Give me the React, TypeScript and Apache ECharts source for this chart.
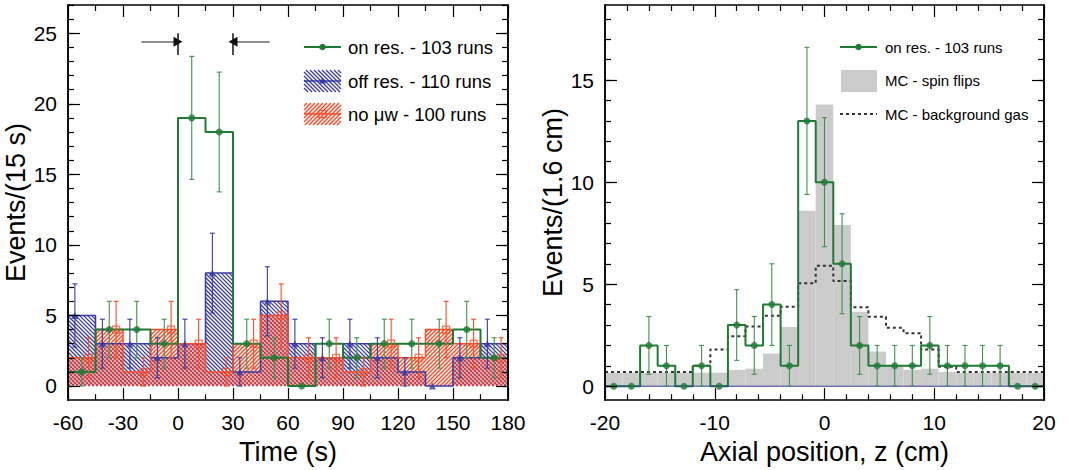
import { useEffect, useRef } from "react";
import * as echarts from "echarts";

// ---------- Left panel: time distribution (15 s bins) ----------
const timeEdges = [-60, -45, -30, -15, 0, 15, 30, 45, 60, 75, 90, 105, 120, 135, 150, 165, 180];
const onRes = [1, 4, 4, 3, 19, 18, 3, 2, 0, 3, 2, 3, 3, 3, 4, 2];
const offRes = [5, 3, 3, 2, 3, 8, 1, 6, 3, 2, 3, 2, 1, 0, 2, 3];
const noMw = [2, 4, 1, 4, 3, 1, 3, 5, 2, 2, 1, 3, 2, 4, 3, 2];
const timeTicks = [-60, -30, 0, 30, 60, 90, 120, 150, 180];
const leftYMajor = [0, 5, 10, 15, 20, 25];
const leftYMinor = [0, 1, 2, 3, 4, 5, 6, 7, 8, 9, 10, 11, 12, 13, 14, 15, 16, 17, 18, 19, 20, 21, 22, 23, 24, 25, 26, 27];
// resonance window markers (s) and arrow geometry in data units
const windowStart = 0;
const windowEnd = 30;
const arrowLen = 20;
const arrowHead = 2.5;
const arrowY = 24.4;
const barLo = 23.45;
const barHi = 25.0;

// ---------- Right panel: axial position (1.6 cm bins) ----------
const zEdges = [-20, -18.4, -16.8, -15.2, -13.6, -12, -10.4, -8.8, -7.2, -5.6, -4, -2.4, -0.8, 0.8, 2.4, 4, 5.6, 7.2, 8.8, 10.4, 12, 13.6, 15.2, 16.8, 18.4, 20];
const onResZ = [0, 0, 2, 1, 0, 1, 0, 3, 2, 4, 1, 13, 10, 6, 2, 1, 1, 1, 2, 1, 1, 1, 1, 0, 0];
const mcSpin = [0.66, 0.66, 0.66, 0.66, 0.66, 0.66, 0.66, 0.8, 0.86, 1.6, 2.9, 8.6, 13.8, 7.9, 3.65, 1.7, 1.0, 0.8, 0.86, 0.7, 0.65, 0.65, 0.65, 0.65, 0.65];
const bgGas = [0.7, 0.7, 0.7, 0.7, 0.7, 1.0, 1.8, 2.45, 2.93, 3.45, 3.9, 5.05, 5.9, 5.15, 3.87, 3.4, 2.86, 2.6, 1.8, 0.95, 0.7, 0.7, 0.7, 0.7, 0.7];
const baselineZ = [0, 0, 0, 0, 0, 0, 0, 0, 0, 0, 0, 0, 0, 0, 0, 0, 0, 0, 0, 0, 0, 0, 0, 0, 0];
const rightYMajor = [0, 5, 10, 15];
const rightYMinor = [0, 1, 2, 3, 4, 5, 6, 7, 8, 9, 10, 11, 12, 13, 14, 15, 16, 17, 18];

const FONT = '"Liberation Sans", Arial, Helvetica, sans-serif';
const GREEN = "#1e7b34";
const GREEN_ERR = "#3f9150";
const BLUE = "#3a3aa6";
const RED = "#ff4a26";
const GRAY = "#cbcbcb";
const DOT = "#333333";

function hatchSegments(ax: number, ay: number, bx: number, by: number, s: number, dir: number) {
  const x0 = Math.min(ax, bx), x1 = Math.max(ax, bx);
  const y0 = Math.min(ay, by), y1 = Math.max(ay, by);
  const segs: number[][] = [];
  if (x1 - x0 < 0.5 || y1 - y0 < 0.5) return segs;
  if (dir === 1) {
    const cmin = x0 - y1, cmax = x1 - y0;
    for (let c = Math.ceil(cmin / s) * s; c <= cmax; c += s) {
      const xa = Math.max(x0, y0 + c), xb = Math.min(x1, y1 + c);
      if (xb > xa) segs.push([xa, xa - c, xb, xb - c]);
    }
  } else {
    const cmin = x0 + y0, cmax = x1 + y1;
    for (let c = Math.ceil(cmin / s) * s + 2; c <= cmax; c += s) {
      const xa = Math.max(x0, c - y1), xb = Math.min(x1, c - y0);
      if (xb > xa) segs.push([xa, c - xa, xb, c - xb]);
    }
  }
  return segs;
}

const binData = (edges: number[], vals: number[]) => vals.map((v, i) => [edges[i], edges[i + 1], v]);
const stepPoints = (edges: number[], vals: number[]) => {
  const pts: number[][] = [];
  vals.forEach((v, i) => {
    pts.push([edges[i], v]);
    pts.push([edges[i + 1], v]);
  });
  return pts;
};
const centers = (edges: number[], off: number) => edges.slice(0, -1).map((e, i) => (e + edges[i + 1]) / 2 + off);
const points = (edges: number[], vals: number[], off: number) => {
  const c = centers(edges, off);
  return vals.map((v, i) => [c[i], v]);
};
const errData = (edges: number[], vals: number[], off: number) => {
  const c = centers(edges, off);
  const out: number[][] = [];
  vals.forEach((v, i) => {
    if (v > 0) out.push([c[i], v - Math.sqrt(v), v + Math.sqrt(v)]);
  });
  return out;
};

const hatchSeries = (data: number[][], color: string, dir: number, lw: number, xi: number, yi: number) => ({
  type: "custom",
  xAxisIndex: xi,
  yAxisIndex: yi,
  z: 1,
  silent: true,
  data,
  encode: { x: [0, 1], y: 2 },
  renderItem: (_p: any, api: any) => {
    const a = api.coord([api.value(0), api.value(2)]);
    const b = api.coord([api.value(1), 0]);
    const segs = hatchSegments(a[0], a[1], b[0], b[1], 4, dir);
    return {
      type: "group",
      children: segs.map((g) => ({
        type: "line",
        shape: { x1: g[0], y1: g[1], x2: g[2], y2: g[3] },
        style: { stroke: color, lineWidth: lw, opacity: 1 },
      })),
    };
  },
});

const rectSeries = (data: number[][], color: string, xi: number, yi: number) => ({
  type: "custom",
  xAxisIndex: xi,
  yAxisIndex: yi,
  z: 1,
  silent: true,
  data,
  encode: { x: [0, 1], y: 2 },
  renderItem: (_p: any, api: any) => {
    const a = api.coord([api.value(0), api.value(2)]);
    const b = api.coord([api.value(1), 0]);
    return {
      type: "rect",
      shape: { x: a[0], y: a[1], width: b[0] - a[0], height: b[1] - a[1] },
      style: { fill: color },
    };
  },
});

const errSeries = (data: number[][], color: string, xi: number, yi: number) => ({
  type: "custom",
  xAxisIndex: xi,
  yAxisIndex: yi,
  z: 4,
  silent: true,
  data,
  encode: { x: 0, y: [1, 2] },
  renderItem: (_p: any, api: any) => {
    const x = api.value(0);
    const p1 = api.coord([x, api.value(1)]);
    const p2 = api.coord([x, api.value(2)]);
    const cw = 2.5;
    const st = { stroke: color, lineWidth: 1.1 };
    return {
      type: "group",
      children: [
        { type: "line", shape: { x1: p1[0], y1: p1[1], x2: p2[0], y2: p2[1] }, style: st },
        { type: "line", shape: { x1: p1[0] - cw, y1: p1[1], x2: p1[0] + cw, y2: p1[1] }, style: st },
        { type: "line", shape: { x1: p2[0] - cw, y1: p2[1], x2: p2[0] + cw, y2: p2[1] }, style: st },
      ],
    };
  },
});

const stepSeries = (edges: number[], vals: number[], color: string, width: number, z: number, xi: number, yi: number, dash?: any) => ({
  type: "line",
  xAxisIndex: xi,
  yAxisIndex: yi,
  z,
  silent: true,
  symbol: "none",
  showSymbol: false,
  data: stepPoints(edges, vals),
  lineStyle: { color, width, type: dash || "solid" },
});

const scatterSeries = (data: number[][], symbol: string, size: number, item: any, xi: number, yi: number) => ({
  type: "scatter",
  xAxisIndex: xi,
  yAxisIndex: yi,
  z: 5,
  silent: true,
  symbol,
  symbolSize: size,
  data,
  itemStyle: item,
});

const axisLineStyle = { color: "#000", width: 1.5 };
const tickStyle = { color: "#000", width: 1.2 };
const labelStyle = { color: "#000", fontSize: 21, fontFamily: FONT, margin: 12 };
const nameStyle = { color: "#000", fontSize: 27, fontFamily: FONT };

const xAx = (gi: number, min: number, max: number, interval: number, minorSplit: number, pos: string, showLabel: boolean, name?: string) => ({
  type: "value",
  gridIndex: gi,
  min,
  max,
  interval,
  position: pos,
  z: 10,
  axisLine: { show: true, onZero: false, lineStyle: axisLineStyle },
  axisTick: { show: true, inside: true, length: 12, lineStyle: tickStyle },
  minorTick: { show: true, splitNumber: minorSplit, length: 6, lineStyle: tickStyle },
  axisLabel: { show: showLabel, ...labelStyle },
  splitLine: { show: false },
  minorSplitLine: { show: false },
  name: name || "",
  nameLocation: "middle",
  nameGap: 36,
  nameTextStyle: nameStyle,
});

const yAx = (gi: number, min: number, max: number, values: number[], len: number, pos: string, showLabel: boolean, name?: string) => ({
  type: "value",
  gridIndex: gi,
  min,
  max,
  position: pos,
  z: 10,
  axisLine: { show: true, onZero: false, lineStyle: axisLineStyle },
  axisTick: { show: true, inside: true, length: len, customValues: values, lineStyle: tickStyle },
  axisLabel: { show: showLabel, customValues: values, ...labelStyle, margin: 11 },
  splitLine: { show: false },
  name: name || "",
  nameLocation: "middle",
  nameRotate: 90,
  nameGap: 37,
  nameTextStyle: nameStyle,
});

function legendGraphics() {
  const g: any[] = [];
  const txt = (x: number, y: number, text: string, size: number) => ({
    type: "text",
    x,
    y,
    style: { text, fontSize: size, fontFamily: FONT, fill: "#000", verticalAlign: "middle", align: "left" },
  });
  // left legend
  g.push({ type: "line", shape: { x1: 304, y1: 47, x2: 341, y2: 47 }, style: { stroke: GREEN, lineWidth: 2 } });
  g.push({ type: "circle", shape: { cx: 322.5, cy: 47, r: 3.3 }, style: { fill: GREEN } });
  g.push(txt(348, 47, "on res. - 103 runs", 18.5));
  hatchSegments(304, 70, 341, 92, 4, 1).forEach((s) =>
    g.push({ type: "line", shape: { x1: s[0], y1: s[1], x2: s[2], y2: s[3] }, style: { stroke: BLUE, lineWidth: 1.2 } })
  );
  g.push({ type: "line", shape: { x1: 304, y1: 81, x2: 341, y2: 81 }, style: { stroke: BLUE, lineWidth: 1.3 } });
  g.push({ type: "polygon", shape: { points: [[322.5, 77.5], [319, 83.5], [326, 83.5]] }, style: { fill: BLUE } });
  g.push(txt(348, 81, "off res. - 110 runs", 18.5));
  hatchSegments(304, 103, 341, 125, 4, -1).forEach((s) =>
    g.push({ type: "line", shape: { x1: s[0], y1: s[1], x2: s[2], y2: s[3] }, style: { stroke: RED, lineWidth: 1.4 } })
  );
  g.push({ type: "line", shape: { x1: 304, y1: 114, x2: 341, y2: 114 }, style: { stroke: RED, lineWidth: 1.3 } });
  g.push({ type: "rect", shape: { x: 319, y: 110.5, width: 7, height: 7 }, style: { fill: "none", stroke: RED, lineWidth: 1.2 } });
  g.push(txt(348, 114, "no μw - 100 runs", 18.5));
  // right legend
  g.push({ type: "line", shape: { x1: 840, y1: 47, x2: 877, y2: 47 }, style: { stroke: GREEN, lineWidth: 2 } });
  g.push({ type: "circle", shape: { cx: 858.5, cy: 47, r: 3.3 }, style: { fill: GREEN } });
  g.push(txt(885, 47, "on res. - 103 runs", 15));
  g.push({ type: "rect", shape: { x: 841, y: 70, width: 36, height: 22 }, style: { fill: GRAY } });
  g.push(txt(885, 80, "MC - spin flips", 15));
  g.push({ type: "line", shape: { x1: 840, y1: 114, x2: 877, y2: 114 }, style: { stroke: DOT, lineWidth: 2, lineDash: [3, 3] } });
  g.push(txt(885, 114, "MC - background gas", 15));
  return g;
}

function buildOption() {
  const greenLine: any = stepSeries(timeEdges, onRes, GREEN, 2, 3, 0, 0);
  const gray = { color: "#6a6a6a", width: 1.5, type: "solid" };
  const dark = { color: "#111", width: 1.5, type: "solid" };
  greenLine.markLine = {
    silent: true,
    animation: false,
    symbol: ["none", "none"],
    symbolSize: [10, 9],
    label: { show: false },
    lineStyle: gray,
    data: [
      [{ coord: [windowStart - arrowLen, arrowY] }, { coord: [windowStart - arrowHead, arrowY] }],
      [{ coord: [windowEnd + arrowLen, arrowY] }, { coord: [windowEnd + arrowHead, arrowY] }],
      [{ coord: [windowStart - arrowHead, arrowY], lineStyle: dark }, { coord: [windowStart, arrowY], symbol: "triangle", lineStyle: dark }],
      [{ coord: [windowEnd + arrowHead, arrowY], lineStyle: dark }, { coord: [windowEnd, arrowY], symbol: "triangle", lineStyle: dark }],
      [{ coord: [windowStart, barLo], lineStyle: dark }, { coord: [windowStart, barHi] }],
      [{ coord: [windowEnd, barLo], lineStyle: dark }, { coord: [windowEnd, barHi] }],
    ],
  };
  return {
    animation: false,
    backgroundColor: "#fff",
    grid: [
      { left: 68, top: 5, width: 440, height: 398 },
      { left: 605, top: 5, width: 439, height: 398 },
    ],
    xAxis: [
      xAx(0, timeTicks[0], timeTicks[timeTicks.length - 1], 30, 2, "bottom", true, "Time (s)"),
      xAx(0, timeTicks[0], timeTicks[timeTicks.length - 1], 30, 2, "top", false),
      xAx(1, -20, 20, 10, 5, "bottom", true, "Axial position, z (cm)"),
      xAx(1, -20, 20, 10, 5, "top", false),
    ],
    yAxis: [
      yAx(0, -1, 27, leftYMajor, 12, "left", true, "Events/(15 s)"),
      yAx(0, -1, 27, leftYMinor, 6, "left", false),
      yAx(0, -1, 27, leftYMajor, 12, "right", false),
      yAx(0, -1, 27, leftYMinor, 6, "right", false),
      yAx(1, -0.68, 18.68, rightYMajor, 12, "left", true, "Events/(1.6 cm)"),
      yAx(1, -0.68, 18.68, rightYMinor, 6, "left", false),
      yAx(1, -0.68, 18.68, rightYMajor, 12, "right", false),
      yAx(1, -0.68, 18.68, rightYMinor, 6, "right", false),
    ],
    graphic: legendGraphics(),
    series: [
      // left
      hatchSeries(binData(timeEdges, offRes), BLUE, 1, 1.2, 0, 0),
      hatchSeries(binData(timeEdges, noMw), RED, -1, 1.4, 0, 0),
      stepSeries(timeEdges, offRes, BLUE, 1.5, 2, 0, 0),
      stepSeries(timeEdges, noMw, RED, 1.5, 2, 0, 0),
      greenLine,
      errSeries(errData(timeEdges, offRes, -3.75), BLUE, 0, 0),
      errSeries(errData(timeEdges, noMw, 3.75), RED, 0, 0),
      errSeries(errData(timeEdges, onRes, 0), GREEN_ERR, 0, 0),
      scatterSeries(points(timeEdges, offRes, -3.75), "triangle", 7, { color: BLUE }, 0, 0),
      scatterSeries(points(timeEdges, noMw, 3.75), "rect", 7, { color: "rgba(255,255,255,0)", borderColor: RED, borderWidth: 1.2 }, 0, 0),
      scatterSeries(points(timeEdges, onRes, 0), "circle", 7, { color: GREEN }, 0, 0),
      // right
      rectSeries(binData(zEdges, mcSpin), GRAY, 2, 4),
      stepSeries(zEdges, bgGas, DOT, 2, 2, 2, 4, [3, 3]),
      stepSeries(zEdges, onResZ, GREEN, 2, 3, 2, 4),
      stepSeries(zEdges, baselineZ, BLUE, 1, 3.5, 2, 4),
      errSeries(errData(zEdges, onResZ, 0), GREEN_ERR, 2, 4),
      scatterSeries(points(zEdges, onResZ, 0), "circle", 7, { color: GREEN }, 2, 4),
    ],
  };
}

export default function App() {
  const ref = useRef<HTMLDivElement>(null);
  useEffect(() => {
    if (!ref.current) return;
    const chart = echarts.init(ref.current, null, { renderer: "svg" });
    chart.setOption(buildOption() as any);
    return () => chart.dispose();
  }, []);
  return <div ref={ref} style={{ position: "absolute", left: 0, top: 0, width: 1069, height: 470, background: "#fff" }} />;
}
